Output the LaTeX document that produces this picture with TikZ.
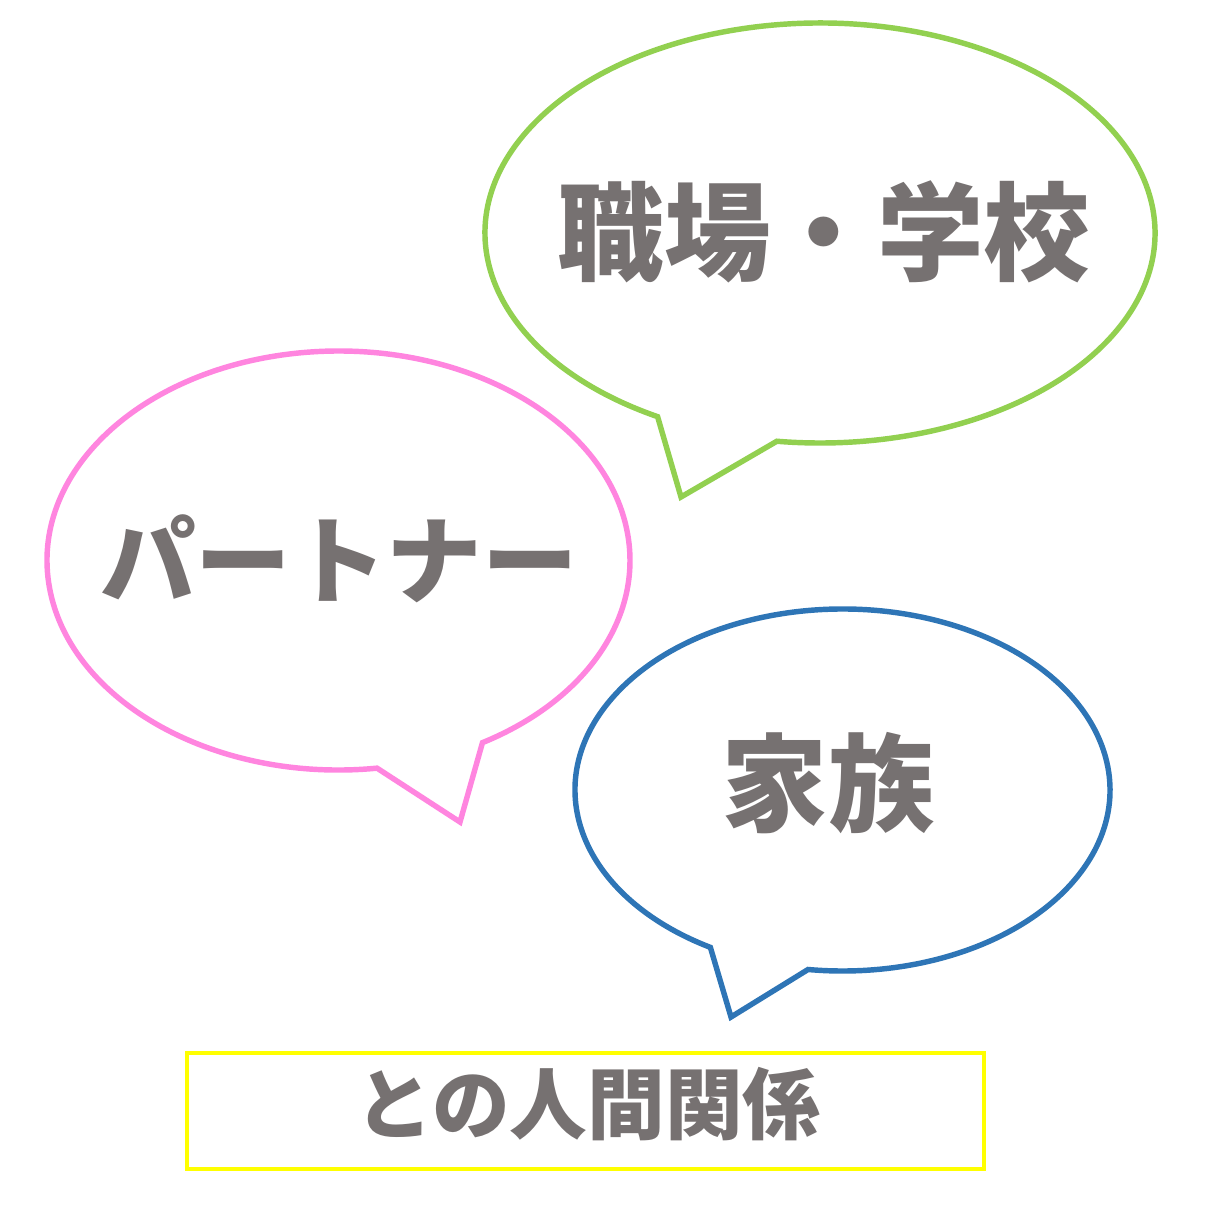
\documentclass[tikz,border=0pt]{standalone}
\usepackage{fontspec}
\newfontfamily\jpfont{Noto Sans CJK JP}
\definecolor{bubblegreen}{HTML}{92D050}
\definecolor{bubblepink}{HTML}{FF85DF}
\definecolor{bubbleblue}{HTML}{2E75B6}
\definecolor{boxyellow}{HTML}{FFFF00}
\definecolor{textgray}{HTML}{767171}
\tikzset{
    bubble/.style={line width=3.1pt, line join=miter, fill=white},
    bubbletext/.style={text=textgray, inner sep=0pt,
        font=\jpfont\bfseries\fontsize{#1}{#1}\selectfont}
}

\begin{document}
\begin{tikzpicture}[x=0.02cm,y=-0.02cm]
                    \useasboundingbox (0,0) rectangle (1220,1221);
                    \coordinate (W) at (820,233);
                    \coordinate (P) at (338.5,560.5);
                    \coordinate (F) at (842.5,790);
                    \coordinate (Wtip) at (681,497);
                    \coordinate (Ptip) at (460,822);
                    \coordinate (Ftip) at (731,1017);
                    \draw[bubble,draw=bubblegreen] (W) ++(119:335 and 210)
                        arc[start angle=119,end angle=457.4,x radius=335,y radius=210] -- (Wtip) -- cycle;
                    \draw[bubble,draw=bubblepink] (P) ++(82.4:291.5 and 209.5)
                        arc[start angle=82.4,end angle=420.4,x radius=291.5,y radius=209.5] -- (Ptip) -- cycle;
                    \draw[bubble,draw=bubbleblue] (F) ++(119.6:267.5 and 181)
                        arc[start angle=119.6,end angle=457.4,x radius=267.5,y radius=181] -- (Ftip) -- cycle;
                    \node[bubbletext=60.7pt] (work) at (824,232) {職場・学校};
                    \node[bubbletext=54.4pt] (partner) at (339,559) {パートナー};
                    \node[bubbletext=60.5pt] (family) at (828,783) {家族};
                    \draw[boxyellow,line width=2.5pt] (187,1053) rectangle (984,1169);
                    \node[bubbletext=44.2pt] (caption) at (588,1104) {との人間関係};
\end{tikzpicture}
\end{document}
